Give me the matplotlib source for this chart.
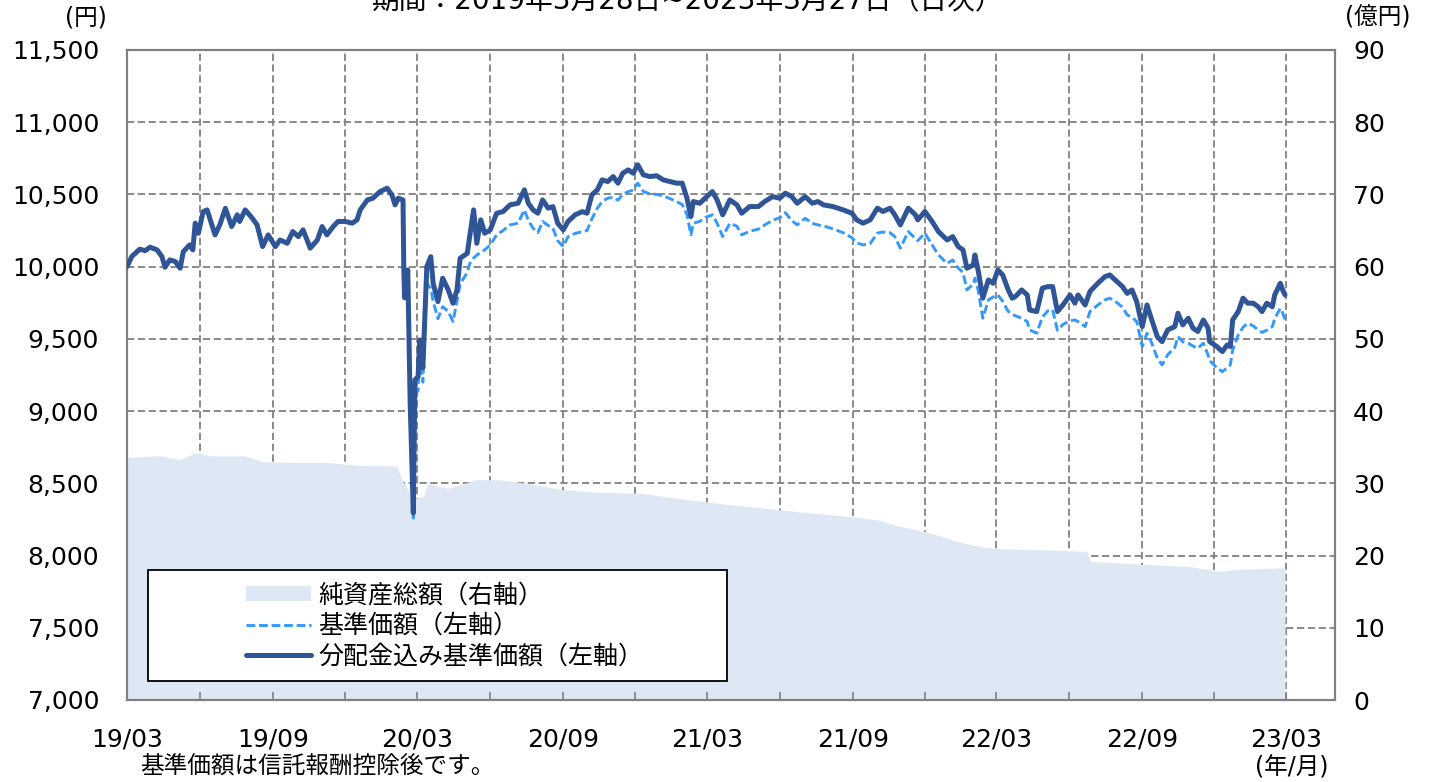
import pandas as pd
import matplotlib
matplotlib.use("Agg")
import matplotlib.pyplot as plt
from matplotlib.patches import Rectangle

plt.rcParams['font.family'] = ['DejaVu Sans', 'Noto Sans CJK JP']

# days counted from 2019-03-28 (start of the period)
days = [0, 6, 16, 23, 29, 38, 44, 48, 54, 61,
        67, 71, 79, 83, 86, 90, 96, 101, 111, 117,
        124, 132, 139, 142, 149, 158, 164, 171, 178, 187,
        193, 202, 209, 216, 222, 231, 240, 246, 252, 260,
        266, 275, 284, 290, 294, 303, 310, 319, 328, 334,
        338, 342, 348, 349, 350, 354, 357, 361, 363, 367,
        369, 373, 378, 383, 386, 392, 398, 405, 411, 416,
        420, 429, 432, 437, 441, 446, 451, 458, 466, 474,
        483, 493, 501, 506, 512, 518, 524, 531, 537, 543,
        550, 556, 565, 574, 580, 586, 593, 599, 606, 613,
        619, 625, 632, 638, 644, 651, 659, 668, 676, 685,
        693, 700, 706, 711, 714, 722, 729, 738, 744, 751,
        760, 769, 775, 785, 796, 804, 814, 823, 830, 838,
        845, 855, 864, 871, 878, 890, 903, 914, 920, 928,
        937, 946, 953, 962, 968, 975, 985, 994, 997, 1006,
        1015, 1023, 1034, 1041, 1048, 1054, 1059, 1067, 1069, 1073,
        1079, 1086, 1092, 1098, 1104, 1111, 1116, 1120, 1128, 1135,
        1138, 1147, 1154, 1161, 1167, 1173, 1180, 1189, 1195, 1199,
        1208, 1214, 1224, 1233, 1239, 1246, 1255, 1261, 1267, 1273,
        1280, 1286, 1292, 1299, 1305, 1312, 1321, 1325, 1331, 1338,
        1344, 1350, 1357, 1363, 1365, 1374, 1381, 1387, 1391, 1394,
        1401, 1407, 1413, 1420, 1426, 1431, 1437, 1444, 1447, 1454,
        1457, 1460]

# 分配金込み基準価額 (yen)
nav_adj = [10000, 10070, 10121, 10111, 10135, 10116, 10070, 9996, 10047, 10035,
           9989, 10104, 10151, 10116, 10301, 10231, 10381, 10393, 10220, 10289,
           10404, 10278, 10359, 10313, 10393, 10335, 10289, 10139, 10220, 10139,
           10185, 10162, 10243, 10208, 10255, 10128, 10185, 10278, 10220, 10278,
           10313, 10313, 10301, 10324, 10393, 10462, 10474, 10520, 10543, 10497,
           10428, 10474, 10462, 9990, 9784, 9977, 9057, 8295, 9216, 9239,
           9493, 9300, 10000, 10069, 9885, 9758, 9920, 9839, 9747, 9839,
           10058, 10092, 10208, 10393, 10162, 10324, 10231, 10255, 10370, 10381,
           10428, 10439, 10532, 10439, 10393, 10370, 10462, 10405, 10416, 10301,
           10255, 10313, 10359, 10381, 10370, 10497, 10532, 10601, 10589, 10624,
           10578, 10647, 10670, 10647, 10705, 10636, 10624, 10629, 10601, 10589,
           10578, 10578, 10474, 10347, 10451, 10439, 10474, 10520, 10462, 10359,
           10462, 10428, 10370, 10416, 10416, 10451, 10485, 10474, 10509, 10485,
           10439, 10485, 10439, 10451, 10428, 10416, 10393, 10370, 10324, 10301,
           10324, 10405, 10382, 10405, 10359, 10289, 10405, 10359, 10324, 10382,
           10313, 10243, 10185, 10208, 10139, 10116, 9989, 10012, 10081, 9977,
           9782, 9908, 9885, 9977, 9943, 9839, 9782, 9793, 9839, 9804,
           9700, 9689, 9851, 9862, 9862, 9689, 9735, 9804, 9747, 9804,
           9735, 9828, 9885, 9931, 9943, 9908, 9862, 9815, 9839, 9758,
           9585, 9735, 9631, 9515, 9481, 9562, 9585, 9678, 9597, 9643,
           9574, 9551, 9631, 9574, 9481, 9447, 9412, 9458, 9447, 9631,
           9689, 9782, 9747, 9747, 9723, 9689, 9747, 9723, 9804, 9885,
           9839, 9804]

# 基準価額 (yen)
nav = [10000, 10070, 10121, 10111, 10135, 10116, 10070, 9996, 10047, 10035,
       9989, 10104, 10151, 10116, 10301, 10231, 10381, 10393, 10220, 10289,
       10404, 10278, 10359, 10313, 10393, 10335, 10289, 10139, 10220, 10139,
       10185, 10162, 10243, 10208, 10255, 10128, 10185, 10278, 10220, 10278,
       10313, 10313, 10301, 10324, 10393, 10462, 10474, 10520, 10543, 10497,
       10428, 10474, 10462, 9990, 9784, 9977, 9057, 8260, 9120, 9140,
       9380, 9200, 9885, 9850, 9760, 9640, 9723, 9690, 9620, 9760,
       9880, 9960, 10020, 10060, 10080, 10100, 10116, 10150, 10220, 10250,
       10289, 10301, 10393, 10320, 10266, 10235, 10313, 10285, 10266, 10180,
       10139, 10208, 10230, 10243, 10250, 10330, 10405, 10450, 10474, 10480,
       10460, 10500, 10520, 10530, 10578, 10520, 10505, 10500, 10490, 10470,
       10450, 10430, 10360, 10220, 10300, 10313, 10340, 10359, 10301, 10208,
       10300, 10280, 10220, 10245, 10260, 10289, 10320, 10340, 10374, 10320,
       10289, 10335, 10300, 10289, 10282, 10262, 10235, 10200, 10165, 10151,
       10160, 10232, 10240, 10235, 10208, 10128, 10243, 10195, 10180, 10232,
       10151, 10081, 10023, 10046, 9990, 9960, 9839, 9880, 9920, 9840,
       9643, 9770, 9790, 9804, 9760, 9690, 9670, 9660, 9643, 9620,
       9562, 9540, 9650, 9695, 9700, 9560, 9600, 9625, 9631, 9620,
       9585, 9689, 9735, 9770, 9782, 9760, 9720, 9666, 9650, 9620,
       9447, 9539, 9470, 9366, 9320, 9390, 9440, 9516, 9480, 9470,
       9450, 9435, 9470, 9389, 9350, 9300, 9273, 9300, 9320, 9424,
       9527, 9580, 9608, 9590, 9562, 9545, 9560, 9585, 9640, 9712,
       9680, 9631]

# 純資産総額 (億円)
aum_days = [0, 42, 66, 86, 106, 150, 170, 216, 251, 290,
            340, 348, 362, 374, 379, 405, 440, 469, 504, 550,
            589, 649, 709, 748, 808, 862, 913, 948, 968, 1007,
            1048, 1078, 1108, 1157, 1205, 1210, 1215, 1278, 1338, 1378,
            1398, 1460]
aum = [33.6, 33.8, 33.3, 34.2, 33.8, 33.8, 33.0, 32.9, 32.9, 32.5,
       32.4, 30.2, 27.9, 28.2, 30.0, 29.3, 30.5, 30.5, 30.0, 29.1,
       28.8, 28.6, 27.7, 27.2, 26.5, 25.9, 25.4, 24.9, 24.2, 23.3,
       21.9, 21.2, 20.9, 20.8, 20.6, 20.6, 19.2, 18.8, 18.5, 17.8,
       18.1, 18.3]

tick_labels = ['19/03', '19/09', '20/03', '20/09', '21/03',
               '21/09', '22/03', '22/09', '23/03']

start = pd.Timestamp('2019-03-28')
dates = start + pd.to_timedelta(days, unit='D')
aum_dates = start + pd.to_timedelta(aum_days, unit='D')

fig = plt.figure(figsize=(14.31, 7.82), dpi=100)
ax = fig.add_axes([127 / 1431, 82 / 782, 1208 / 1431, 650 / 782])
ax2 = ax.twinx()
ax.set_zorder(ax2.get_zorder() + 1)
ax.patch.set_visible(False)

grid_kw = dict(color='#808080', linestyle=(0, (4, 2)), linewidth=1.3)

# net assets area on right axis, grid under it
area = ax2.fill_between(aum_dates, aum, 0, color='#dde8f4', lw=0, zorder=2,
                        label='純資産総額（右軸）')
ax2.set_ylim(0, 90)
ax2.set_yticks(range(0, 91, 10))
ax2.set_axisbelow(True)
ax2.yaxis.grid(True, **grid_kw)

major = [start + pd.DateOffset(months=6 * k) for k in range(len(tick_labels))]
minor = [start + pd.DateOffset(months=3 + 6 * k) for k in range(len(tick_labels) - 1)]
for d in major[1:] + minor:
    ax2.axvline(d, zorder=1, **grid_kw)

l1, = ax.plot(dates, nav, color='#3399ff', lw=2.1, ls=(0, (3, 1.3)), zorder=3,
              label='基準価額（左軸）')
l2, = ax.plot(dates, nav_adj, color='#2f5597', lw=3.6, zorder=4,
              solid_joinstyle='round', solid_capstyle='round',
              label='分配金込み基準価額（左軸）')

ax.set_ylim(7000, 11500)
ax.set_yticks(range(7000, 11501, 500))
ax.set_yticklabels([f'{v:,}' for v in range(7000, 11501, 500)])

ax.set_xticks(major)
ax.set_xticklabels(tick_labels)
ax.set_xticks(minor, minor=True)
ax.set_xlim(start, start + pd.Timedelta(days=1523))

ax.tick_params(axis='y', length=0, pad=20, labelsize=18)
ax2.tick_params(axis='y', length=0, pad=13, labelsize=18)
ax.tick_params(axis='x', which='both', direction='in', length=6, width=1.2,
               color='#808080', pad=20, labelsize=18)

for a in (ax, ax2):
    for s in a.spines.values():
        s.set_color('#808080')
        s.set_linewidth(1.5)

# legend box
fig.add_artist(Rectangle((148 / 1431, 1 - 681 / 782), 579 / 1431, 111 / 782,
                         transform=fig.transFigure, facecolor='white',
                         edgecolor='black', lw=1.3, zorder=4))
fig.legend(handles=[area, l1, l2], loc='center left',
           bbox_to_anchor=(233 / 1431, 1 - 626 / 782), frameon=False,
           fontsize=18, handlelength=2.6, handleheight=0.55, handletextpad=0.3,
           labelspacing=0.25, borderpad=0)

fig.text(688 / 1431, 1 - 9 / 782, '期間：2019年3月28日~2023年3月27日（日次）',
         ha='center', va='baseline', fontsize=20)
fig.text(86 / 1431, 1 - 18 / 782, '(円)', ha='center', va='center', fontsize=17)
fig.text(1378 / 1431, 1 - 18 / 782, '(億円)', ha='center', va='center', fontsize=17)
fig.text(1292 / 1431, 1 - 767 / 782, '(年/月)', ha='center', va='center', fontsize=17)
fig.text(140 / 1431, 1 - 767 / 782, '基準価額は信託報酬控除後です。',
         ha='left', va='center', fontsize=17)

fig.savefig('out.png', dpi=100)
